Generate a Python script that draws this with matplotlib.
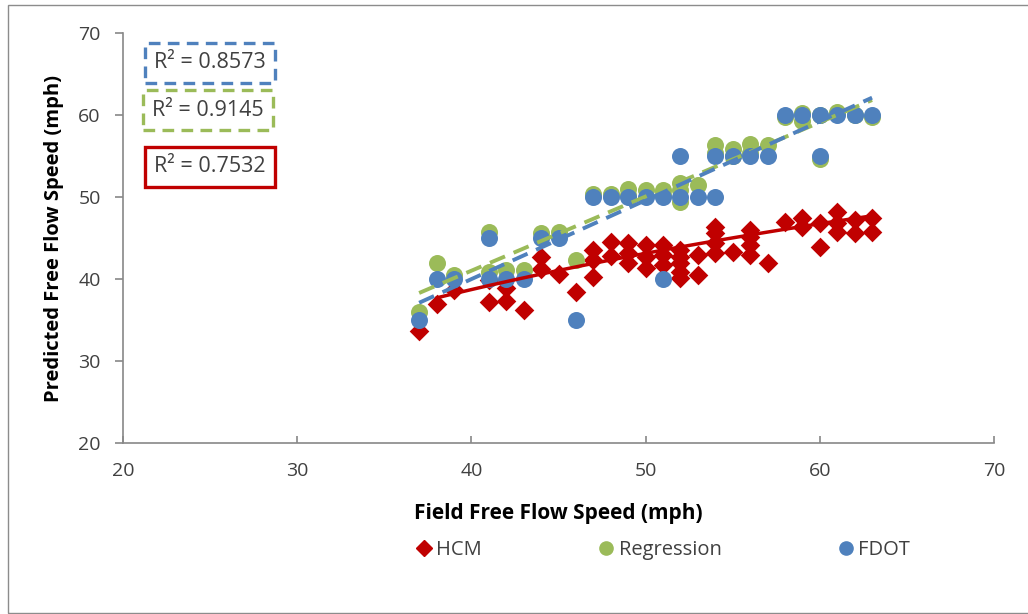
import numpy as np
import matplotlib
matplotlib.use("Agg")
import matplotlib.pyplot as plt
from matplotlib.lines import Line2D
from matplotlib.patches import Rectangle

plt.rcParams['font.family'] = ['Open Sans', 'DejaVu Sans']

# ---- data -------------------------------------------------------------
hcm_x = [37, 38, 39, 41, 41, 42, 42, 43, 44, 44, 45, 46, 47, 47, 47, 48, 48,
         49, 49, 49, 50, 50, 50, 51, 51, 51, 52, 52, 52, 52, 52, 53, 53,
         54, 54, 54, 54, 55, 56, 56, 56, 56, 57, 58, 59, 59, 60, 60,
         61, 61, 61, 62, 62, 63, 63]
hcm_y = [33.6, 37.0, 38.7, 39.9, 37.2, 38.9, 37.3, 36.2, 42.7, 41.2, 40.6, 38.4,
         43.5, 42.3, 40.2, 44.5, 42.8, 44.4, 43.2, 42.0, 44.1, 42.7, 41.4,
         44.1, 42.9, 41.7, 43.5, 42.7, 42.0, 40.9, 40.1, 42.9, 40.5,
         46.3, 45.6, 44.4, 43.2, 43.3, 46.0, 45.1, 44.1, 42.9, 41.9, 47.0,
         47.4, 46.3, 46.8, 43.9, 48.2, 46.8, 45.7, 47.2, 45.6, 47.4, 45.7]

reg_x = [37, 38, 39, 41, 41, 42, 43, 44, 45, 46, 47, 48, 49, 49, 50, 51, 51,
         52, 52, 52, 53, 54, 54, 55, 55, 56, 56, 57, 58, 59, 59, 60, 60, 61, 62, 63]
reg_y = [36.0, 42.0, 40.5, 45.7, 40.9, 41.1, 41.1, 45.6, 45.7, 42.3, 50.4, 50.4,
         51.0, 50.3, 50.9, 50.9, 50.3, 51.7, 50.9, 49.4, 51.5, 56.3, 55.4, 55.8,
         55.0, 56.5, 55.4, 56.3, 59.8, 60.3, 59.3, 54.6, 60.0, 60.4, 60.0, 59.7]

fdot_x = [37, 38, 39, 41, 41, 42, 43, 44, 45, 46, 47, 48, 49, 50, 51, 51, 52, 52,
          53, 54, 54, 55, 56, 57, 58, 59, 60, 60, 61, 62, 63]
fdot_y = [35, 40, 40, 45, 40, 40, 40, 45, 45, 35, 50, 50, 50, 50, 50, 40, 55, 50,
          50, 55, 50, 55, 55, 55, 60, 60, 60, 55, 60, 60, 60]

# trendline coefficients
hcm_log_fit = [19.8, -34.33]     # y = a*ln(x) + b
reg_lin_fit = [0.905, 4.81]      # y = m*x + c
fdot_lin_fit = [0.962, 1.506]    # y = m*x + c

r2_labels = ["R\u00b2 = 0.8573", "R\u00b2 = 0.9145", "R\u00b2 = 0.7532"]
series_names = ["HCM", "Regression", "FDOT"]

RED = "#C00000"
GREEN = "#9BBB59"
BLUE = "#4F81BD"
TXT = "#404040"
AXC = "#888888"

# ---- figure -----------------------------------------------------------
W, H = 1028, 614
fig = plt.figure(figsize=(W / 100, H / 100), dpi=100)
fig.patch.set_facecolor("white")

def fx(px):
    return px / W

def fy(py):
    return 1 - py / H

# chart outer frame
fig.add_artist(Rectangle((fx(8), fy(613)), fx(1040) - fx(8), fy(5) - fy(613),
                         transform=fig.transFigure, fill=False,
                         edgecolor="#8C8C8C", linewidth=1.0))

ax = fig.add_axes([fx(123), fy(443), fx(994) - fx(123), fy(33) - fy(443)])
ax.set_xlim(20, 70)
ax.set_ylim(20, 70)
ax.set_xticks(np.arange(20, 71, 10))
ax.set_yticks(np.arange(20, 71, 10))
for s in ["top", "right"]:
    ax.spines[s].set_visible(False)
for s in ["left", "bottom"]:
    ax.spines[s].set_color(AXC)
    ax.spines[s].set_linewidth(1.2)
ax.tick_params(axis="x", direction="in", length=5, width=1.2, color=AXC,
               labelsize=14, labelcolor=TXT, pad=14)
ax.tick_params(axis="y", direction="out", length=6, width=1.2, color=AXC,
               labelsize=14, labelcolor=TXT, pad=10)

ax.set_xlabel("Field Free Flow Speed (mph)", fontsize=15, fontweight="bold",
              color="black", labelpad=16)
ax.set_ylabel("Predicted Free Flow Speed (mph)", fontsize=14.5, fontweight="bold",
              color="black", labelpad=10)

# scatter series
ax.scatter(hcm_x, hcm_y, marker="D", s=100, color=RED, linewidths=0, zorder=3)
ax.scatter(reg_x, reg_y, marker="o", s=150, color=GREEN, linewidths=0, zorder=4)
ax.scatter(fdot_x, fdot_y, marker="o", s=150, color=BLUE, linewidths=0, zorder=5)

# trendlines
xh = np.linspace(38, max(hcm_x), 100)
ax.plot(xh, hcm_log_fit[0] * np.log(xh) + hcm_log_fit[1], color=RED, lw=2.5,
        zorder=6, solid_capstyle="round")
xr = np.array([min(reg_x), max(reg_x)])
ax.plot(xr, reg_lin_fit[0] * xr + reg_lin_fit[1], color=GREEN, lw=2.8,
        dashes=(4.2, 2.4), zorder=7)
xf = np.array([min(fdot_x), max(fdot_x)])
ax.plot(xf, fdot_lin_fit[0] * xf + fdot_lin_fit[1], color=BLUE, lw=2.8,
        dashes=(4.2, 2.4), zorder=8)

# R² boxes
boxes = [(145, 43, 275, 83, BLUE, (0, (3.5, 2.2))),
         (143, 90, 273, 130, GREEN, (0, (3.5, 2.2))),
         (145, 147, 275, 187, RED, "solid")]
for (x0, y0, x1, y1, c, ls), lab in zip(boxes, r2_labels):
    fig.add_artist(Rectangle((fx(x0), fy(y1)), fx(x1) - fx(x0), fy(y0) - fy(y1),
                             transform=fig.transFigure, fill=False,
                             edgecolor=c, linewidth=2.4, linestyle=ls))
    fig.text(fx((x0 + x1) / 2), fy((y0 + y1) / 2), lab, ha="center",
             va="center", fontsize=15.5, color=TXT)

# legend
handles = [Line2D([], [], marker="D", color=RED, linestyle="none", markersize=8),
           Line2D([], [], marker="o", color=GREEN, linestyle="none", markersize=9.5),
           Line2D([], [], marker="o", color=BLUE, linestyle="none", markersize=9.5)]
leg = fig.legend(handles, series_names, loc="center", ncol=3,
                 bbox_to_anchor=(fx(664), fy(550)), frameon=False,
                 fontsize=14.5, handlelength=0.6, handletextpad=0.3,
                 columnspacing=5.9, labelcolor=TXT)

fig.savefig("out.png", dpi=100, facecolor="white")
